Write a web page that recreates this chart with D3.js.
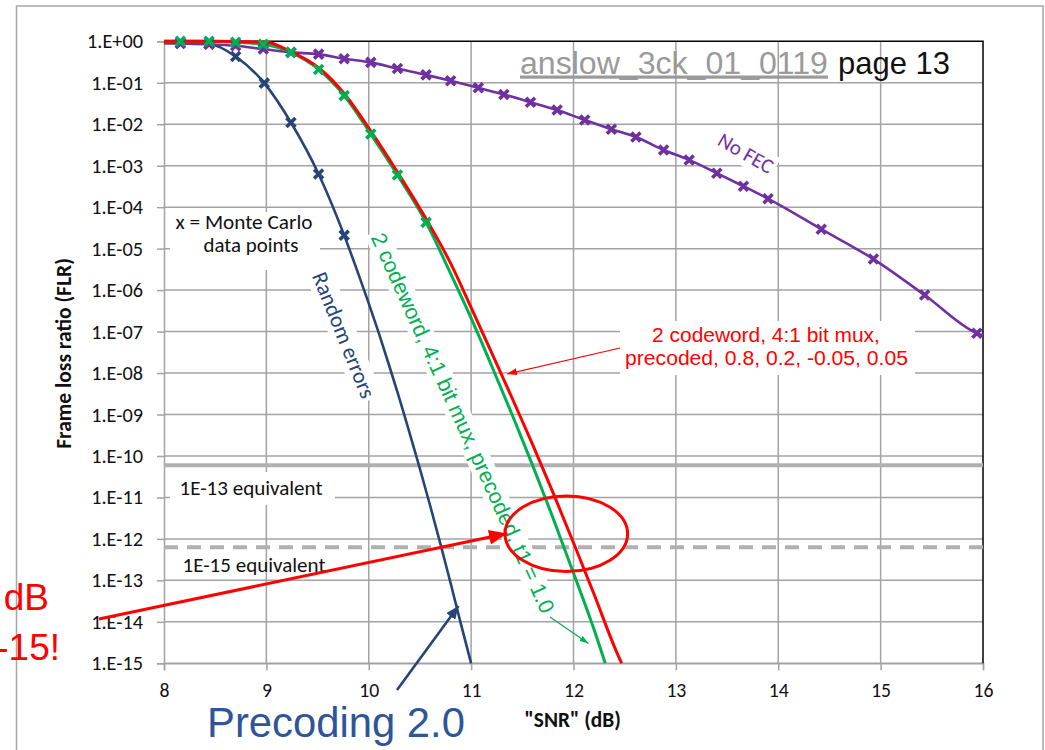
<!DOCTYPE html>
<html lang="en">
<head>
<meta charset="UTF-8">
<title>Frame loss ratio vs SNR</title>
<script src="https://d3js.org/d3.v7.min.js"></script>
<style>
  body { margin: 0; background: #fff; }
  svg { display: block; }
  .cal { font-family: Carlito, Lato, sans-serif; }
  .ari { font-family: "Liberation Sans", Arial, sans-serif; }
</style>
</head>
<body>
<svg id="chart" width="1045" height="750"></svg>
<script>
// ---- data ----
const snrTicks = [8, 9, 10, 11, 12, 13, 14, 15, 16];
const flrTicks = [1, 1e-1, 1e-2, 1e-3, 1e-4, 1e-5, 1e-6, 1e-7, 1e-8, 1e-9, 1e-10, 1e-11, 1e-12, 1e-13, 1e-14, 1e-15];
const flrTickLabels = ['1.E+00','1.E-01','1.E-02','1.E-03','1.E-04','1.E-05','1.E-06','1.E-07',
                       '1.E-08','1.E-09','1.E-10','1.E-11','1.E-12','1.E-13','1.E-14','1.E-15'];

// No FEC: Monte Carlo points and curve
const noFecSnr = [8.16, 8.44, 8.70, 8.97, 9.24, 9.51, 9.76, 10.02, 10.28, 10.56, 10.80, 11.07, 11.32, 11.58,
                  11.84, 12.11, 12.37, 12.61, 12.88, 13.13, 13.40, 13.66, 13.90, 14.42, 14.93, 15.43, 15.94];
const noFecFlr = [0.89, 0.85, 0.78, 0.65, 0.54, 0.49, 0.38, 0.31, 0.22, 0.155, 0.112, 0.076, 0.052, 0.034,
                  0.022, 0.0126, 0.0076, 0.0049, 0.0024, 0.00138, 6.6e-4, 3.2e-4, 1.6e-4, 2.95e-5, 5.6e-6, 7.6e-7, 9.1e-8];
const noFecCurveSnr = [8.0].concat(noFecSnr, [16.0]);
const noFecCurveFlr = [0.91].concat(noFecFlr, [8.0e-8]);

// Random errors
const randSnr = [8.16, 8.44, 8.70, 8.98, 9.24, 9.51, 9.76];
const randFlr = [0.90, 0.86, 0.43, 0.098, 0.011, 6.3e-4, 2.1e-5];
const randCurveSnr = [8.0, 8.16, 8.44, 8.70, 8.98, 9.24, 9.51, 9.76, 9.9, 10.0, 10.1, 10.2, 10.3, 10.4, 10.5, 10.6, 10.7, 10.8, 10.9, 11.0];
const randCurveFlr = [0.90, 0.90, 0.86, 0.43, 0.098, 0.011, 6.3e-4, 2.1e-5, 2.4e-6, 4.8e-7, 8.9e-8, 1.5e-8,
                      2.4e-9, 3.5e-10, 4.9e-11, 6.3e-12, 7.6e-13, 8.5e-14, 8.9e-15, 1e-15];

// 2 codeword, 4:1 bit mux, precoded, t1 = 1.0 (green)
const t1Snr = [8.16, 8.44, 8.70, 8.97, 9.24, 9.51, 9.76, 10.02, 10.28, 10.56];
const t1Flr = [1.0, 1.0, 0.95, 0.85, 0.54, 0.21, 0.049, 5.8e-3, 6.0e-4, 4.3e-5];
const t1CurveSnr = [8.0, 8.16, 8.44, 8.70, 8.97, 9.24, 9.51, 9.76, 10.02, 10.28, 10.56,
                    10.8, 11.0, 11.2, 11.4, 11.6, 11.8, 12.0, 12.2, 12.31];
const t1CurveFlr = [1.0, 1.0, 1.0, 0.95, 0.85, 0.54, 0.21, 0.049, 5.8e-3, 6.0e-4, 4.3e-5,
                    2.5e-6, 2.1e-7, 1.5e-8, 1.0e-9, 6.0e-11, 3.2e-12, 1.5e-13, 6.6e-15, 1e-15];

// 2 codeword, 4:1 bit mux, precoded, 0.8, 0.2, -0.05, 0.05 (red)
const tapSnr = [8.0, 8.5, 9.0, 9.24, 9.51, 9.76, 10.02, 10.28, 10.57, 10.8, 11.0, 11.2, 11.4, 11.6, 11.8, 12.0, 12.2, 12.4, 12.47];
const tapFlr = [1.0, 1.0, 0.95, 0.56, 0.23, 0.055, 6.8e-3, 7.0e-4, 4.7e-5, 4.4e-6, 3.8e-7, 3.1e-8, 2.5e-9,
                1.9e-10, 1.3e-11, 8.1e-13, 4.7e-14, 2.5e-15, 1e-15];

// "equivalent" levels
const eqLevels = [6e-11, 6.3e-13];
const eqLabels = ['1E-13 equivalent', '1E-15 equivalent'];

const zip = (a, b) => a.map((v, i) => [v, b[i]]);

// ---- layout ----
const svg = d3.select('#chart');
const x = d3.scaleLinear().domain([8, 16]).range([164, 983]);
const y = d3.scaleLog().domain([1, 1e-15]).range([41.3, 663.3]);
const gridCol = '#a3a3a3';
const navy = '#264478', purple = '#7030a0', green = '#00b050', red = '#ff0000';

const defs = svg.append('defs');
function head(id, color, len, wid) {
  defs.append('marker').attr('id', id).attr('viewBox', '0 0 10 10')
    .attr('refX', 10).attr('refY', 5).attr('markerUnits', 'userSpaceOnUse')
    .attr('markerWidth', len).attr('markerHeight', wid).attr('orient', 'auto')
    .attr('preserveAspectRatio', 'none')
    .append('path').attr('d', 'M0,0L10,5L0,10z').attr('fill', color);
}
head('hRedBig', red, 18, 15);
head('hRedSmall', red, 10, 7);
head('hNavy', navy, 13, 11);
head('hGreen', green, 9, 6);

function fit(sel, w) {
  const l = sel.node().getComputedTextLength();
  sel.attr('font-size', parseFloat(sel.attr('font-size')) * w / l);
  return sel;
}

// outer chart frame
svg.append('rect').attr('x', 16.5).attr('y', 6).attr('width', 1026.5).attr('height', 800)
  .attr('fill', 'none').attr('stroke', '#a6a6a6').attr('stroke-width', 1.5);

// grid
svg.append('g').selectAll('line').data(flrTicks.slice(1)).join('line')
  .attr('x1', x(8)).attr('x2', x(16)).attr('y1', d => y(d)).attr('y2', d => y(d))
  .attr('stroke', gridCol).attr('stroke-width', 1.5);
svg.append('g').selectAll('line').data(snrTicks.slice(1, -1)).join('line')
  .attr('x1', d => x(d)).attr('x2', d => x(d)).attr('y1', y(1)).attr('y2', y(1e-15))
  .attr('stroke', gridCol).attr('stroke-width', 1.5);

// axes
const yAxis = svg.append('g').attr('transform', `translate(${x(8)},0)`)
  .call(d3.axisLeft(y).tickValues(flrTicks).tickFormat((d, i) => flrTickLabels[i]).tickSize(7).tickPadding(14));
const xAxis = svg.append('g').attr('transform', `translate(0,${y(1e-15)})`)
  .call(d3.axisBottom(x).tickValues(snrTicks).tickFormat(d3.format('d')).tickSize(7).tickPadding(13));
[[yAxis, 56], [xAxis, 20]].forEach(([a, w]) => {
  a.select('.domain').attr('stroke', gridCol).attr('stroke-width', 1.5);
  a.selectAll('.tick line').attr('stroke', gridCol).attr('stroke-width', 1.5);
  const t = a.selectAll('text').attr('class', 'cal').attr('font-size', 17).attr('fill', '#111');
  // scale all tick labels so the widest one matches the picture
  const len = d3.max(t.nodes(), n => n.getComputedTextLength());
  t.attr('font-size', 17 * w / len);
});

// black top/right border of plot area
svg.append('path').attr('d', `M${x(8)},${y(1)}H${x(16)}V${y(1e-15)}`)
  .attr('fill', 'none').attr('stroke', '#000').attr('stroke-width', 1.5);

// equivalent levels
svg.append('g').selectAll('line').data(eqLevels).join('line')
  .attr('x1', x(8)).attr('x2', x(16)).attr('y1', d => y(d)).attr('y2', d => y(d))
  .attr('stroke', '#b0b0b0').attr('stroke-width', 4)
  .attr('stroke-dasharray', (d, i) => i ? '14,9' : null);

// white label boxes
const boxes = [[170, 212, 150, 58], [170, 472, 165, 33], [620, 321, 295, 54]];
svg.append('g').selectAll('rect').data(boxes).join('rect')
  .attr('x', d => d[0]).attr('y', d => d[1]).attr('width', d => d[2]).attr('height', d => d[3])
  .attr('fill', '#fff');

// rotated labels with white backgrounds
function rotLabel(txt, cx, cy, ang, color, cls, fs, w) {
  const g = svg.append('g').attr('transform', `translate(${cx},${cy}) rotate(${ang})`);
  const t = g.append('text').attr('class', cls).attr('text-anchor', 'middle').attr('dy', '0.35em')
    .attr('font-size', fs).attr('fill', color).text(txt);
  fit(t, w);
  const b = t.node().getBBox();
  g.insert('rect', 'text').attr('x', b.x - 3).attr('y', b.y).attr('width', b.width + 6)
    .attr('height', b.height).attr('fill', '#fff');
  return g;
}

// curves
const line = d3.line().x(d => x(d[0])).y(d => y(d[1])).curve(d3.curveMonotoneX);
const curves = [
  [zip(randCurveSnr, randCurveFlr), navy, 2.6],
  [zip(noFecCurveSnr, noFecCurveFlr), purple, 2.6],
  [zip(t1CurveSnr, t1CurveFlr), green, 3],
  [zip(tapSnr, tapFlr), red, 3]
];
const curveG = svg.append('g');

// labels that sit behind the curves
rotLabel('Random errors', 344, 335, 68, navy, 'cal', 18, 134);
rotLabel('2 codeword, 4:1 bit mux, precoded, t1 = 1.0', 463, 423, 65.6, green, 'ari', 20, 415);
rotLabel('No FEC', 746, 153, 30, purple, 'cal', 16, 60);

curveG.raise();
curveG.selectAll('path').data(curves).join('path')
  .attr('d', d => line(d[0])).attr('fill', 'none')
  .attr('stroke', d => d[1]).attr('stroke-width', d => d[2]);

// Monte Carlo markers
const cross = 'M-4.5,-4.5L4.5,4.5M-4.5,4.5L4.5,-4.5';
const markerSets = [
  [zip(randSnr, randFlr), navy],
  [zip(noFecSnr, noFecFlr), purple],
  [zip(t1Snr, t1Flr), green]
];
markerSets.forEach(([pts, col]) => {
  svg.append('g').selectAll('path').data(pts).join('path')
    .attr('d', cross).attr('transform', d => `translate(${x(d[0])},${y(d[1])})`)
    .attr('stroke', col).attr('stroke-width', 3.6).attr('fill', 'none');
});

// text annotations
const txt = (s, px, py, fs, w, cls, col, anchor) => {
  const t = svg.append('text').attr('class', cls).attr('x', px).attr('y', py)
    .attr('font-size', fs).attr('fill', col).attr('text-anchor', anchor || 'middle').text(s);
  if (w) fit(t, w);
  return t;
};
txt('x = Monte Carlo', 244, 229, 17, 137, 'cal', '#111');
txt('data points', 251, 252, 17, 95, 'cal', '#111');
svg.append('g').selectAll('text').data(eqLabels).join('text')
  .attr('class', 'cal').attr('x', (d, i) => i ? 254 : 251).attr('y', (d, i) => i ? 572 : 495)
  .attr('text-anchor', 'middle').attr('font-size', 17).attr('fill', '#111').text(d => d)
  .each(function () { fit(d3.select(this), 143); });
txt('2 codeword, 4:1 bit mux,', 766, 342, 20, 228, 'ari', red);
txt('precoded, 0.8, 0.2, -0.05, 0.05', 766.5, 365, 20, 283, 'ari', red);

// axis titles
txt('"SNR" (dB)', 572.7, 726.5, 17, 93, 'cal', '#111').attr('font-weight', 'bold');
txt('Frame loss ratio (FLR)', 0, 0, 16, 187, 'cal', '#111').attr('font-weight', 'bold')
  .attr('transform', 'translate(70.5,353.5) rotate(-90)');

// watermark
const wm = txt('anslow_3ck_01_0119', 520, 73.5, 28, 308, 'ari', '#9a9a9a', 'start');
wm.attr('text-decoration', 'underline');
txt('page 13', 838, 73.5, 28, 112, 'ari', '#111', 'start');

// arrows and highlight
const arrows = [
  [620, 348, 507, 374, red, 1.2, 'hRedSmall'],
  [99, 619, 507, 533.5, red, 3, 'hRedBig'],
  [397, 690, 458.5, 606, navy, 2.6, 'hNavy'],
  [550, 617, 588.5, 643.5, green, 1.2, 'hGreen']
];
svg.append('g').selectAll('line').data(arrows).join('line')
  .attr('x1', d => d[0]).attr('y1', d => d[1]).attr('x2', d => d[2]).attr('y2', d => d[3])
  .attr('stroke', d => d[4]).attr('stroke-width', d => d[5])
  .attr('marker-end', d => `url(#${d[6]})`);
svg.append('ellipse').attr('cx', 566.3).attr('cy', 533.8).attr('rx', 61.3).attr('ry', 37.8)
  .attr('fill', 'none').attr('stroke', red).attr('stroke-width', 3);

// slide overlay text (cut off by the slide edge, as in the picture)
txt('0.4 dB', 49, 610, 37, null, 'ari', red, 'end');
txt('1E-15!', 60, 660, 37, null, 'ari', red, 'end');
txt('Precoding 2.0', 207, 737, 38, 258, 'ari', '#2f5597', 'start');
</script>
</body>
</html>
